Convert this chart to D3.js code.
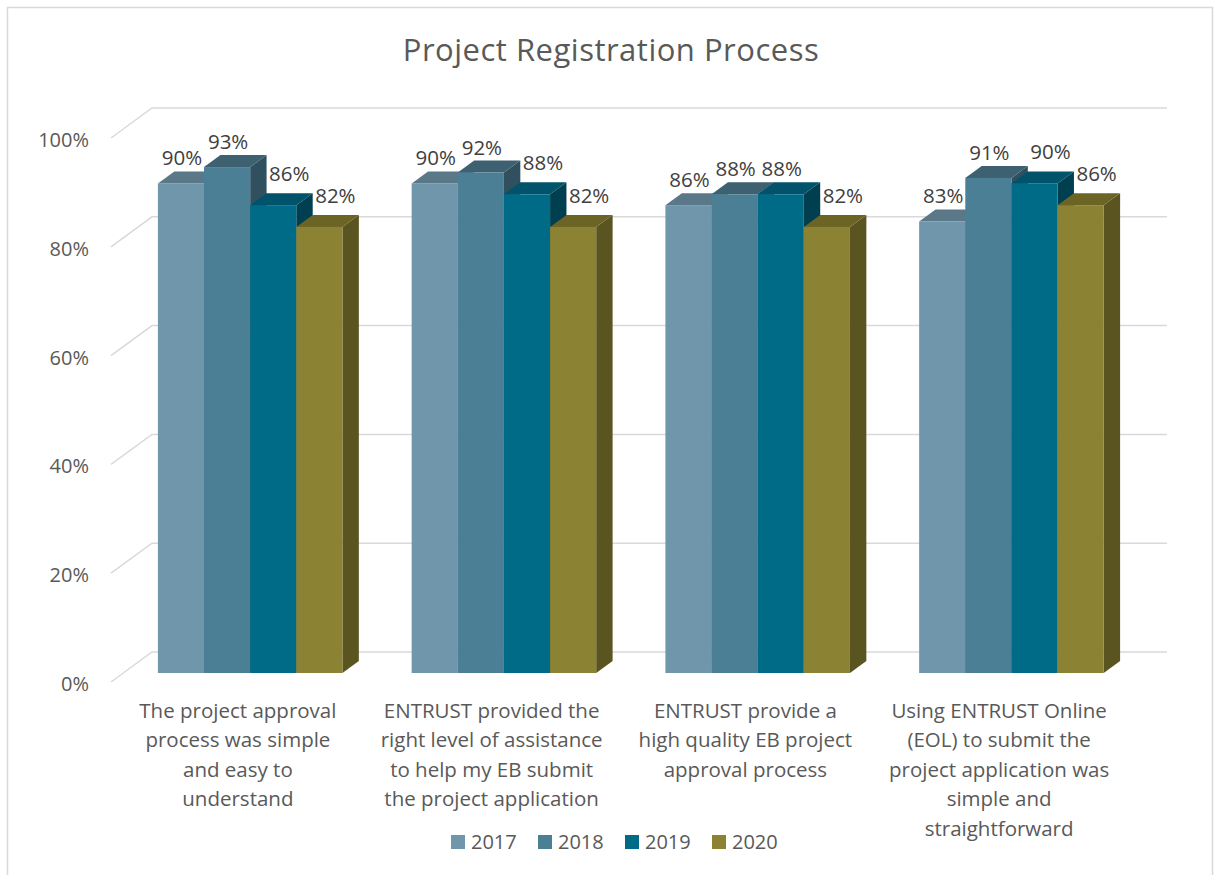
<!doctype html>
<html>
<head>
<meta charset="utf-8"/>
<title>Project Registration Process</title>
<script src="https://d3js.org/d3.v7.min.js"></script>
<style>
	body { margin: 0; background: #fff; }
	text { font-family: "Open Sans", sans-serif; }
</style>
</head>
<body>
<svg id="chart"></svg>
<script>
	// data
	var categories = ["c1", "c2", "c3", "c4"];
	var categoryLines = [
		["The project approval", "process was simple", "and easy to", "understand"],
		["ENTRUST provided the", "right level of assistance", "to help my EB submit", "the project application"],
		["ENTRUST provide a", "high quality EB project", "approval process"],
		["Using ENTRUST Online", "(EOL) to submit the", "project application was", "simple and", "straightforward"]
	];
	var years = ["2017", "2018", "2019", "2020"];
	var v2017 = [0.90, 0.90, 0.86, 0.83];
	var v2018 = [0.93, 0.92, 0.88, 0.91];
	var v2019 = [0.86, 0.88, 0.88, 0.90];
	var v2020 = [0.82, 0.82, 0.82, 0.86];
	var seriesValues = [v2017, v2018, v2019, v2020];
	var yTicks = [0, 0.2, 0.4, 0.6, 0.8, 1.0];

	// colours: front, top, side
	var fronts = ["#7096ab", "#4b7f95", "#006b86", "#8c8233"];
	var tops   = ["#5b7888", "#3d6171", "#00536a", "#6b6425"];
	var sides  = ["#4a6473", "#30505f", "#003f4f", "#5a5420"];

	var W = 1215, H = 875;
	var svg = d3.select("#chart").attr("width", W).attr("height", H);

	// chart border
	svg.append("rect")
		.attr("x", 7.5).attr("y", 7.5)
		.attr("width", 1205).attr("height", 880)
		.attr("fill", "none").attr("stroke", "#d9d9d9").attr("stroke-width", 1.5);

	// title
	svg.append("text")
		.attr("x", 611).attr("y", 61)
		.attr("text-anchor", "middle")
		.style("font-size", "31px")
		.style("letter-spacing", "0.5px")
		.attr("fill", "#595959")
		.text("Project Registration Process");

	// 3d frame: front plane + depth vector
	var depthX = 41, depthY = -30;
	var y = d3.scaleLinear().domain([0, 1]).range([682, 138]);
	var x = d3.scaleBand().domain(categories).range([111, 1126]);
	var barW = x.bandwidth() / 5.5;
	var xs = d3.scaleBand().domain(years).range([0, barW * 4]);
	var dFront = 0.3, dBack = 0.7;

	// gridlines (side wall + back wall)
	var grid = svg.append("g").attr("stroke", "#d9d9d9").attr("stroke-width", 1.5).attr("fill", "none");
	grid.selectAll("path")
		.data(yTicks)
		.enter()
		.append("path")
		.attr("d", function(t) {
			var x0 = x.range()[0], y0 = y(t);
			return "M" + x0 + "," + y0 + "L" + (x0 + depthX) + "," + (y0 + depthY) +
				"L" + (x.range()[1] + depthX) + "," + (y0 + depthY);
		});

	// y axis labels
	var yAxis = d3.axisLeft(y).tickValues(yTicks).tickFormat(d3.format(".0%")).tickSize(0).tickPadding(0);
	var gy = svg.append("g")
		.attr("transform", "translate(89,2)")
		.call(yAxis);
	gy.select(".domain").remove();
	gy.selectAll("text")
		.style("font-size", "20px")
		.style("font-family", "'Open Sans', sans-serif")
		.attr("fill", "#595959");

	// bars
	var bars = [];
	categories.forEach(function(c, ci) {
		years.forEach(function(yr, si) {
			bars.push({ci: ci, si: si, cat: c, year: yr, v: seriesValues[si][ci],
				prev: si > 0 ? seriesValues[si - 1][ci] : null});
		});
	});

	var g = svg.append("g");
	var barG = g.selectAll("g.bar")
		.data(bars)
		.enter()
		.append("g")
		.attr("class", "bar");

	function geom(d) {
		var xl = x(d.cat) + barW * 0.75 + xs(d.year) + dFront * depthX;
		var xr = xl + barW;
		var yt = y(d.v) + dFront * depthY;
		var yb = y(0) + dFront * depthY;
		var ddx = (dBack - dFront) * depthX, ddy = (dBack - dFront) * depthY;
		return {xl: xl, xr: xr, yt: yt, yb: yb, ddx: ddx, ddy: ddy};
	}

	barG.append("path")
		.attr("fill", function(d) { return sides[d.si]; })
		.attr("d", function(d) {
			var q = geom(d);
			return "M" + q.xr + "," + q.yt + "L" + (q.xr + q.ddx) + "," + (q.yt + q.ddy) +
				"L" + (q.xr + q.ddx) + "," + (q.yb + q.ddy) + "L" + q.xr + "," + q.yb + "Z";
		});
	barG.append("path")
		.attr("fill", function(d) { return tops[d.si]; })
		.attr("d", function(d) {
			var q = geom(d);
			return "M" + q.xl + "," + q.yt + "L" + (q.xl + q.ddx) + "," + (q.yt + q.ddy) +
				"L" + (q.xr + q.ddx) + "," + (q.yt + q.ddy) + "L" + q.xr + "," + q.yt + "Z";
		});
	barG.append("rect")
		.attr("fill", function(d) { return fronts[d.si]; })
		.attr("x", function(d) { return geom(d).xl; })
		.attr("y", function(d) { return geom(d).yt; })
		.attr("width", barW)
		.attr("height", function(d) { var q = geom(d); return q.yb - q.yt; });

	// value labels (nudged right when the left neighbour is taller)
	svg.append("g").selectAll("text")
		.data(bars)
		.enter()
		.append("text")
		.attr("text-anchor", "middle")
		.style("font-size", "20.5px")
		.attr("fill", "#404040")
		.attr("x", function(d) {
			var q = geom(d);
			var shifted = d.prev !== null && d.prev > d.v;
			return (q.xl + q.xr) / 2 + 1 + (shifted ? 15 : 0);
		})
		.attr("y", function(d) {
			var q = geom(d);
			var shifted = d.prev !== null && d.prev > d.v;
			return q.yt - (shifted ? 24 : 18);
		})
		.text(function(d) { return d3.format(".0%")(d.v); });

	// category labels
	var catG = svg.append("g").selectAll("text")
		.data(categories)
		.enter()
		.append("text")
		.attr("text-anchor", "middle")
		.style("font-size", "20.5px")
		.attr("fill", "#595959")
		.attr("transform", function(c) { return "translate(" + (x(c) + x.bandwidth() / 2) + ",718)"; });
	catG.selectAll("tspan")
		.data(function(c, i) { return categoryLines[i]; })
		.enter()
		.append("tspan")
		.attr("x", 0)
		.attr("y", function(l, i) { return i * 29.4; })
		.text(function(l) { return l; });

	// legend
	var legend = svg.append("g").attr("transform", "translate(451,835)");
	var lg = legend.selectAll("g")
		.data(years)
		.enter()
		.append("g")
		.attr("transform", function(d, i) { return "translate(" + (i * 87) + ",0)"; });
	lg.append("rect")
		.attr("width", 14).attr("height", 14)
		.attr("fill", function(d, i) { return fronts[i]; });
	lg.append("text")
		.attr("x", 20).attr("y", 14)
		.style("font-size", "20px")
		.attr("fill", "#595959")
		.text(function(d) { return d; });
</script>
</body>
</html>
